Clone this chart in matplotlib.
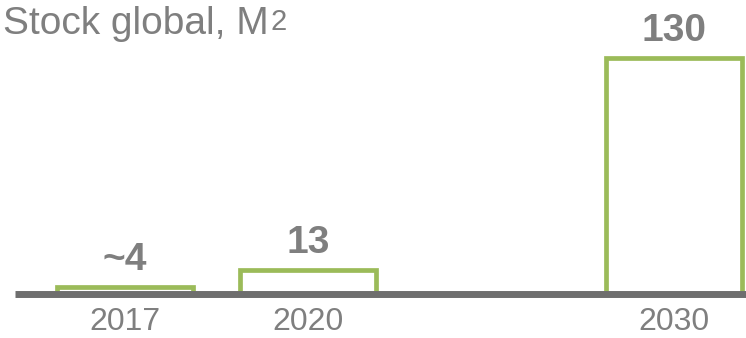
import matplotlib.pyplot as plt

# ---------------------------------------------------------------
# Global stock, M² — outlined bars on a heavy baseline
# ---------------------------------------------------------------
GREEN = "#9BBB59"
GREY  = "#7F7F7F"
LINE  = "#6E6E6E"

years  = ["2017", "2020", "2030"]
slots  = [0, 1, 3]            # 2030 sits one empty slot further right
stock  = [4, 13, 130]
labels = ["~4", "13", "130"]

plt.rcParams["font.family"] = ["Liberation Sans", "DejaVu Sans"]

fig = plt.figure(figsize=(7.46, 3.38), dpi=100)
ax = fig.add_axes([0, 0, 1, 1])
ax.set_axis_off()

ax.bar(slots, stock, width=0.74, facecolor="white", edgecolor=GREEN,
       linewidth=3.4, zorder=2)

# heavy grey baseline
ax.plot([-0.6, 3.5], [0, 0], color=LINE, linewidth=5, solid_capstyle="butt", zorder=3)

for x, v, lab, yr in zip(slots, stock, labels, years):
    ax.text(x, v + 5, lab, ha="center", va="bottom", fontsize=28,
            fontweight="bold", color=GREY)
    ax.text(x, -7, yr, ha="center", va="top", fontsize=23, color=GREY)

# title with a hand-placed superscript 2
title = fig.text(0.004, 0.898, "Stock global, M", ha="left", va="baseline",
                 fontsize=28, color=GREY)
fig.canvas.draw()
bb = title.get_window_extent()
fig.text((bb.x1 + 2) / fig.bbox.width, 0.912, "2", ha="left", va="baseline",
         fontsize=21, color=GREY)

ax.set_xlim(-0.683, 3.393)
ax.set_ylim(-24.2, 162)

fig.savefig("out.png", dpi=100)
